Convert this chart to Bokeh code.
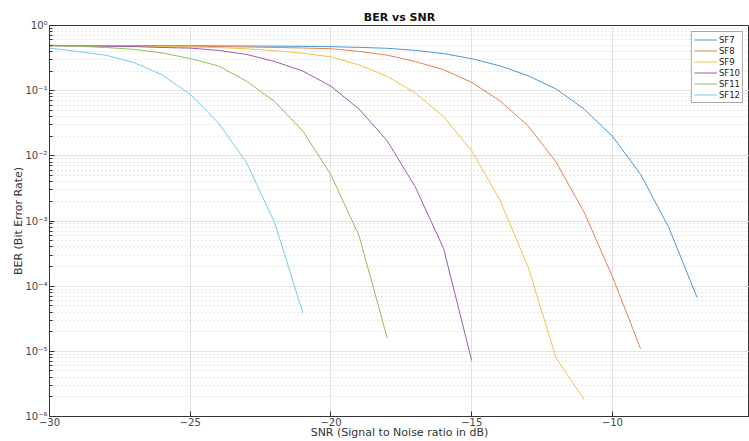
from bokeh.plotting import figure
from bokeh.models import FixedTicker, Range1d, Legend, LegendItem
from bokeh.embed import file_html
from bokeh.resources import INLINE

# ---------------- data ----------------
snr_start = -30
series_names = ["SF7", "SF8", "SF9", "SF10", "SF11", "SF12"]

ber_sf7 = [0.495, 0.494, 0.493, 0.492, 0.49, 0.489, 0.487, 0.485, 0.482, 0.478,
           0.473, 0.462, 0.447, 0.415, 0.37, 0.31, 0.24, 0.17, 0.106, 0.052,
           0.0200, 0.0052, 8.0e-4, 6.8e-5]
ber_sf8 = [0.495, 0.493, 0.49, 0.488, 0.485, 0.48, 0.475, 0.468, 0.46, 0.452,
           0.44, 0.40, 0.35, 0.28, 0.21, 0.134, 0.07, 0.029, 0.0080, 0.00135,
           1.4e-4, 1.1e-5]
ber_sf9 = [0.49, 0.488, 0.485, 0.48, 0.475, 0.468, 0.458, 0.44, 0.41, 0.375,
           0.33, 0.248, 0.166, 0.092, 0.04, 0.012, 0.0021, 2.0e-4, 7.9e-6, 1.8e-6]
ber_sf10 = [0.49, 0.485, 0.48, 0.475, 0.46, 0.45, 0.415, 0.36, 0.28, 0.20,
            0.117, 0.052, 0.017, 0.0033, 3.8e-4, 7.2e-6]
ber_sf11 = [0.49, 0.48, 0.46, 0.43, 0.38, 0.31, 0.24, 0.14, 0.068, 0.024,
            0.0051, 5.9e-4, 1.6e-5]
ber_sf12 = [0.45, 0.40, 0.35, 0.27, 0.175, 0.088, 0.032, 0.0079, 9.4e-4, 3.9e-5]

series_values = [ber_sf7, ber_sf8, ber_sf9, ber_sf10, ber_sf11, ber_sf12]
series_colors = ["#4a98d6", "#e8804f", "#f0c24a", "#9e5aab", "#8fbf55", "#76cbef"]

x_ticks = [-30, -25, -20, -15, -10]
y_decades = [1e-6, 1e-5, 1e-4, 1e-3, 1e-2, 1e-1, 1.0]
y_tick_labels = ["10⁻⁶", "10⁻⁵", "10⁻⁴", "10⁻³", "10⁻²", "10⁻¹", "10⁰"]

title_text = "BER vs SNR"
x_label = "SNR (Signal to Noise ratio in dB)"
y_label = "BER (Bit Error Rate)"

# ---------------- figure ----------------
FONT = "DejaVu Sans"
x_start, x_end = -30, -5.13

p = figure(width=749, height=441, y_axis_type="log",
           x_range=Range1d(x_start, x_end), y_range=Range1d(1e-6, 1.0),
           output_backend="svg", toolbar_location=None,
           min_border_left=49, min_border_right=0, min_border_top=25,
           min_border_bottom=20, background_fill_color="white",
           border_fill_color="white")

p.title.text = title_text
p.title.text_font = FONT
p.title.text_font_size = "11px"
p.title.text_font_style = "bold"
p.title.text_color = "#111111"
p.title.align = "center"
p.title.standoff = 4

p.outline_line_color = "#333333"
p.outline_line_width = 1

p.xaxis.ticker = FixedTicker(ticks=x_ticks, minor_ticks=[])
minor = [m * d for d in y_decades[:-1] for m in range(2, 10)]
p.yaxis.ticker = FixedTicker(ticks=y_decades, minor_ticks=minor)
p.yaxis.major_label_overrides = {v: t for v, t in zip(y_decades, y_tick_labels)}

p.xaxis.axis_label = x_label
p.yaxis.axis_label = y_label

for ax in (p.xaxis[0], p.yaxis[0]):
    ax.axis_line_color = "#333333"
    ax.major_tick_line_color = "#333333"
    ax.minor_tick_line_color = "#333333"
    ax.major_tick_in = 5
    ax.major_tick_out = 0
    ax.minor_tick_in = 3
    ax.minor_tick_out = 0
    ax.major_label_text_font = FONT
    ax.major_label_text_font_size = "10px"
    ax.major_label_text_color = "#444444"
    ax.axis_label_text_font = FONT
    ax.axis_label_text_font_size = "11px"
    ax.axis_label_text_font_style = "normal"
    ax.axis_label_text_color = "#333333"
p.xaxis.major_label_standoff = 1
p.xaxis.axis_label_standoff = -3
p.yaxis.major_label_standoff = 2
p.yaxis.axis_label_standoff = -3

# grids
p.xgrid.grid_line_color = "#e2e2e2"
p.ygrid.grid_line_color = "#e2e2e2"
p.ygrid.minor_grid_line_color = "#cccccc"
p.ygrid.minor_grid_line_dash = "1 3"

# lines
items = []
for name, vals, col in zip(series_names, series_values, series_colors):
    xs = [snr_start + i for i in range(len(vals))]
    r = p.line(xs, vals, line_color=col, line_width=1)
    items.append(LegendItem(label=name, renderers=[r]))

leg = Legend(items=items, location="top_right")
leg.label_text_font = FONT
leg.label_text_font_size = "8.5px"
leg.label_text_color = "#222222"
leg.label_height = 11
leg.glyph_height = 11
leg.glyph_width = 23
leg.spacing = 0
leg.padding = 2
leg.margin = 6
leg.label_standoff = 2
leg.border_line_color = "#555555"
leg.border_line_width = 1
leg.background_fill_alpha = 1.0
p.add_layout(leg)

open("out.html", "w").write(file_html(p, INLINE))
